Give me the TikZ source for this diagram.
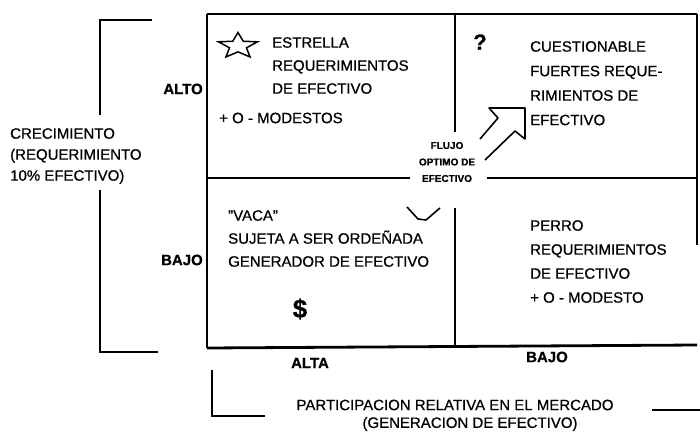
\documentclass[tikz,border=0pt]{standalone}
\usepackage{fontspec}
\setmainfont{Liberation Sans}[FakeBold=0.7]
\usetikzlibrary{shapes.geometric}
\def\Crecimiento{CRECIMIENTO\\(REQUERIMIENTO\\10\% EFECTIVO)}
\def\Estrella{ESTRELLA\\REQUERIMIENTOS\\DE EFECTIVO}
\def\Cuestionable{CUESTIONABLE\\FUERTES REQUE-\\RIMIENTOS DE\\EFECTIVO}
\def\Vaca{\symbol{34}VACA\symbol{34}\\SUJETA A SER ORDEÑADA\\GENERADOR DE EFECTIVO}
\def\Perro{PERRO\\REQUERIMIENTOS\\DE EFECTIVO\\+ O - MODESTO}
\def\Flujo{FLUJO\\OPTIMO DE\\EFECTIVO}
\newcommand{\frameline}[2]{\draw[frame] (#1) -- (#2)}
\newcommand{\bracket}[3]{\draw[frame] (#1) -- (#2) -- (#3)}

\begin{document}
\begin{tikzpicture}[x=1pt, y=-1pt,
                    frame/.style={line width=2.8pt},
                    body/.style={font=\fontsize{15}{23}\selectfont,
                        align=left, inner sep=0pt, anchor=north west},
                    axis/.style={font=\fontsize{15}{18}\selectfont\bfseries,
                        inner sep=0pt},
                    flow/.style={line width=1.6pt, line join=round}]
    \useasboundingbox (0,0) rectangle (700,439);

    % grid corners
    \coordinate (tl) at (207,14);
    \coordinate (tm) at (455,14);
    \coordinate (tr) at (697,14);
    \coordinate (ml) at (207,178);
    \coordinate (mr) at (697,178);
    \coordinate (bl) at (207,348);
    \coordinate (bm) at (455,347);
    \coordinate (br) at (697,345);
    \coordinate (rgap) at (697,245);
    \coordinate (mgapl) at (410,178);
    \coordinate (mgapr) at (487,178);
    \coordinate (vgapt) at (455,132);
    \coordinate (vgapb) at (455,208);

    \frameline{tl}{tr};
    \frameline{tl}{bl};
    \frameline{bl}{br};
    \frameline{tr}{rgap};
    \frameline{ml}{mgapl};
    \frameline{mgapr}{mr};
    \frameline{tm}{vgapt};
    \frameline{vgapb}{bm};

    % brackets
    \coordinate (lb1) at (152,20);
    \coordinate (lb2) at (100,20);
    \coordinate (lb3) at (100,115);
    \coordinate (lb4) at (100,190);
    \coordinate (lb5) at (100,352);
    \coordinate (lb6) at (158,352);
    \coordinate (bb1) at (212,370);
    \coordinate (bb2) at (212,416);
    \coordinate (bb3) at (265,416);
    \coordinate (bb4) at (652,410);
    \coordinate (bb5) at (700,410);
    \bracket{lb1}{lb2}{lb3};
    \bracket{lb4}{lb5}{lb6};
    \bracket{bb1}{bb2}{bb3};
    \frameline{bb4}{bb5};

    % axis labels
    \node[axis, anchor=east] (alto) at (203,89) {ALTO};
    \node[axis, anchor=east] (bajoy) at (203,260) {BAJO};
    \node[axis] (alta) at (310,363) {ALTA};
    \node[axis] (bajox) at (547,357) {BAJO};
    \node[body, font=\fontsize{15}{21}\selectfont] (crec) at (10,128) {\Crecimiento};
    \node[body, anchor=center] (mercado) at (455,405) {PARTICIPACION RELATIVA EN EL MERCADO};
    \node[body, anchor=center] (gener) at (470,424) {(GENERACION DE EFECTIVO)};

    % quadrants
    \node[star, star points=5, star point ratio=2.3, draw, line width=1.5pt,
          minimum size=41pt, yscale=0.66, transform shape] (star) at (238,46) {};
    \node[body] (estrella) at (272,37) {\Estrella};
    \node[body, anchor=west] (modestos) at (219,118) {+ O - MODESTOS};
    \node[axis, font=\fontsize{22}{22}\selectfont\bfseries] (quest) at (480,42) {?};
    \node[body, font=\fontsize{15}{24.5}\selectfont] (cuest) at (530,41) {\Cuestionable};
    \node[body] (vaca) at (228,210) {\Vaca};
    \node[axis, font=\fontsize{26}{26}\selectfont\bfseries] (dollar) at (300,309) {\$};
    \node[body, font=\fontsize{15}{24}\selectfont] (perro) at (530,220) {\Perro};

    % cash flow
    \node[axis, font=\fontsize{10}{16.5}\selectfont\bfseries, align=center] (flujo) at (447,162) {\Flujo};
    \coordinate (a1) at (480,139);
    \coordinate (a2) at (498,118);
    \coordinate (a3) at (489,108);
    \coordinate (a4) at (525,108);
    \coordinate (a5) at (525,139);
    \coordinate (a6) at (515,131);
    \coordinate (a7) at (485,160);
    \draw[flow] (a1) -- (a2) -- (a3) -- (a4) -- (a5) -- (a6) -- (a7);
    \coordinate (v1) at (407,207);
    \coordinate (v2) at (418,219);
    \coordinate (v3) at (426,220);
    \coordinate (v4) at (440,208);
    \draw[flow] (v1) -- (v2) -- (v3) -- (v4);
\end{tikzpicture}
\end{document}
